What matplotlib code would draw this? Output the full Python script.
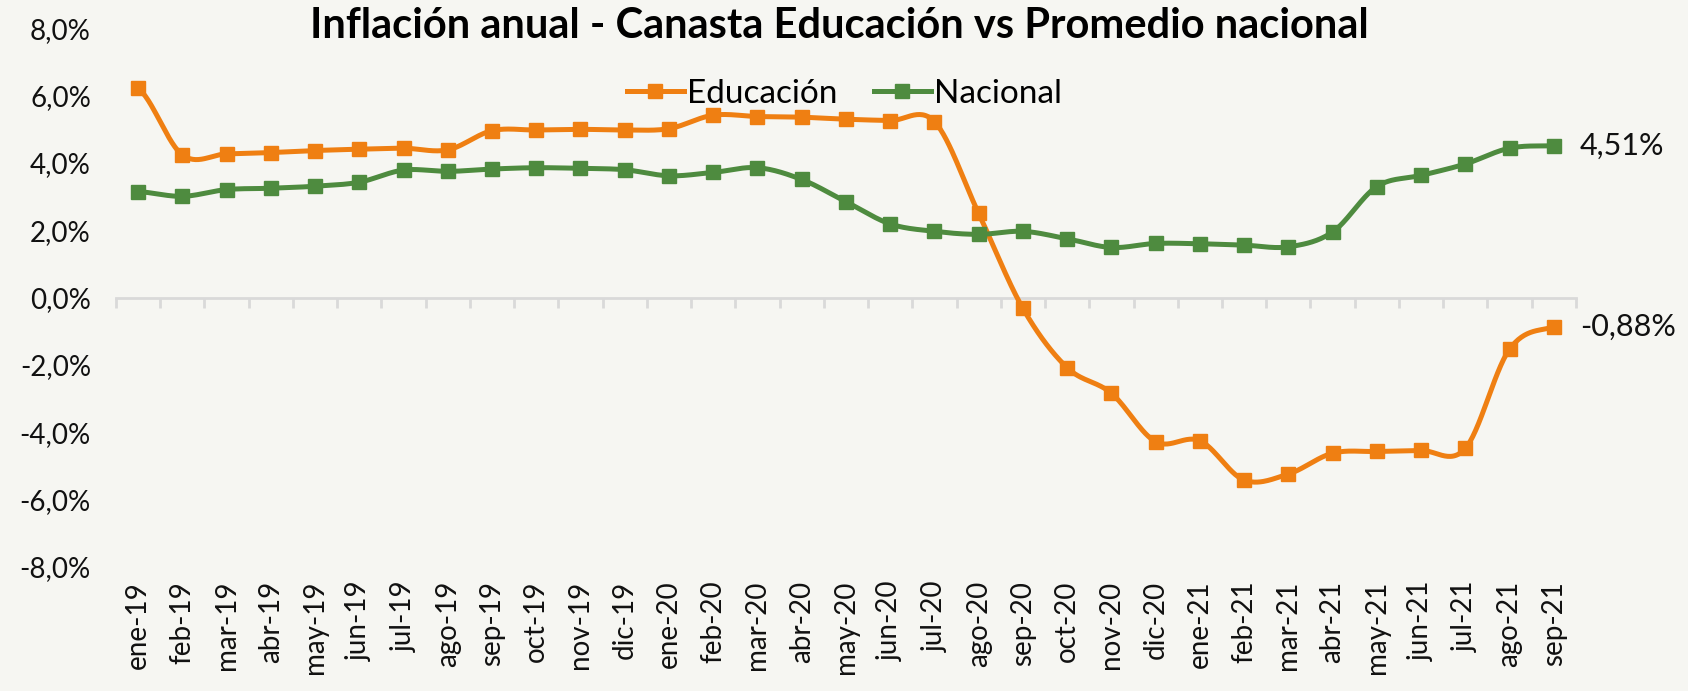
import numpy as np
import matplotlib
matplotlib.use("Agg")
import matplotlib.pyplot as plt
from matplotlib.ticker import FixedLocator, FuncFormatter

plt.rcParams['font.family'] = ['Lato', 'DejaVu Sans']

months = ["ene-19", "feb-19", "mar-19", "abr-19", "may-19", "jun-19", "jul-19", "ago-19",
          "sep-19", "oct-19", "nov-19", "dic-19", "ene-20", "feb-20", "mar-20", "abr-20",
          "may-20", "jun-20", "jul-20", "ago-20", "sep-20", "oct-20", "nov-20", "dic-20",
          "ene-21", "feb-21", "mar-21", "abr-21", "may-21", "jun-21", "jul-21", "ago-21",
          "sep-21"]

educacion = [6.22, 4.24, 4.27, 4.31, 4.37, 4.41, 4.44, 4.39, 4.96, 4.98, 5.00, 4.98,
             5.02, 5.42, 5.38, 5.36, 5.30, 5.26, 5.23, 2.50, -0.32, -2.08, -2.84, -4.28,
             -4.25, -5.42, -5.24, -4.62, -4.57, -4.54, -4.48, -1.53, -0.88]

nacional = [3.15, 3.01, 3.21, 3.25, 3.31, 3.43, 3.79, 3.75, 3.82, 3.86, 3.84, 3.80,
            3.62, 3.72, 3.86, 3.51, 2.85, 2.19, 1.97, 1.88, 1.97, 1.75, 1.49, 1.61,
            1.60, 1.56, 1.51, 1.95, 3.30, 3.63, 3.97, 4.44, 4.51]

yticks = [8, 6, 4, 2, 0, -2, -4, -6, -8]

ORANGE = "#EF7F12"
GREEN = "#4E8B3F"
BG = "#F6F6F2"


def smooth(y, n=30):
    # Catmull-Rom (Excel-style smoothed line) through the data points
    y = np.asarray(y, dtype=float)
    x = np.arange(len(y), dtype=float)
    xs, ys = [], []
    for i in range(len(y) - 1):
        p0 = y[i - 1] if i > 0 else y[i]
        p1, p2 = y[i], y[i + 1]
        p3 = y[i + 2] if i + 2 < len(y) else y[i + 1]
        m1 = (p2 - p0) / 2.0
        m2 = (p3 - p1) / 2.0
        t = np.linspace(0, 1, n, endpoint=False)
        h00 = 2 * t**3 - 3 * t**2 + 1
        h10 = t**3 - 2 * t**2 + t
        h01 = -2 * t**3 + 3 * t**2
        h11 = t**3 - t**2
        ys.append(h00 * p1 + h10 * m1 + h01 * p2 + h11 * m2)
        xs.append(x[i] + t)
    xs.append([x[-1]])
    ys.append([y[-1]])
    return np.concatenate(xs), np.concatenate(ys)


fig = plt.figure(figsize=(16.88, 6.91), dpi=100, facecolor=BG)
ax = fig.add_axes([0.0687, 0.1795, 0.8649, 0.7795])
ax.set_facecolor(BG)

x = np.arange(len(months))
for data, col, lab in [(educacion, ORANGE, "Educación"), (nacional, GREEN, "Nacional")]:
    sx, sy = smooth(data)
    ax.plot(sx, sy, color=col, lw=3.6, solid_capstyle='round', zorder=3)
    ax.plot(x, data, linestyle='none', marker='s', markersize=10.5, color=col, zorder=4)
    ax.plot([], [], color=col, lw=3.6, marker='s', markersize=10.5, label=lab)

ax.set_xlim(-0.5, len(months) - 0.5)
ax.set_ylim(-8, 8)

# y axis
ax.set_yticks(yticks)
ax.yaxis.set_major_formatter(FuncFormatter(lambda v, p: f"{v:.1f}%".replace('.', ',')))
ax.tick_params(axis='y', length=0, labelsize=20, pad=18, labelcolor='#111111')

# x axis line at zero with boundary ticks
for s in ['top', 'right', 'left']:
    ax.spines[s].set_visible(False)
ax.spines['bottom'].set_position(('data', 0))
ax.spines['bottom'].set_color('#D9D9D9')
ax.spines['bottom'].set_linewidth(2)
ax.set_xticks([])
ax.xaxis.set_minor_locator(FixedLocator(np.arange(-0.5, len(months), 1.0)))
ax.tick_params(axis='x', which='minor', length=7, width=2, color='#D9D9D9', direction='out')

# category labels at the bottom
sec = ax.secondary_xaxis('bottom')
sec.set_xticks(x, months, rotation=90)
sec.spines['bottom'].set_visible(False)
sec.tick_params(axis='x', length=0, labelsize=20, pad=10, labelcolor='#111111')

# end labels
ax.annotate("4,51%", (x[-1], nacional[-1]), xytext=(26, 0), textcoords='offset pixels',
            va='center', ha='left', fontsize=22, color='#111111')
ax.annotate("-0,88%", (x[-1], educacion[-1]), xytext=(26, 0), textcoords='offset pixels',
            va='center', ha='left', fontsize=22, color='#111111')

leg = ax.legend(loc='center', bbox_to_anchor=(0.499, 0.879), ncol=2, frameon=False,
                fontsize=24, handlelength=1.7, handletextpad=0.1, columnspacing=1.1)

fig.text(0.497, 0.962, "Inflación anual - Canasta Educación vs Promedio nacional",
         ha='center', va='center', fontsize=30, fontweight='bold', color='#000000')

fig.savefig("out.png", dpi=100, facecolor=BG)
